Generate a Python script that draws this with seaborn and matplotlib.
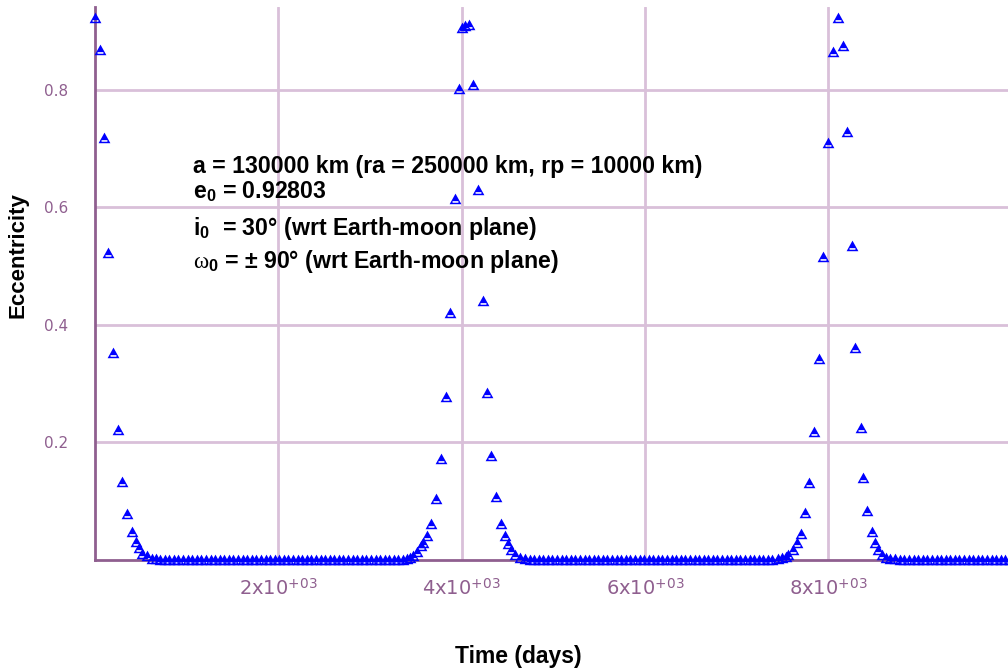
import numpy as np
import pandas as pd
import seaborn as sns
import matplotlib.pyplot as plt
from matplotlib.path import Path

# ---- data (time in days, eccentricity) ----
peak1_t = [0, 55, 98, 147, 200, 248, 298, 346, 400, 444, 480, 516, 564, 619]
peak1_e = [0.922, 0.868, 0.718, 0.523, 0.352, 0.222, 0.133, 0.079, 0.048, 0.031,
           0.020, 0.011, 0.006, 0.002]

flat1_t = [660, 710, 760, 810, 860, 910, 960, 1010, 1060, 1110,
           1160, 1210, 1260, 1310, 1360, 1410, 1460, 1510, 1560, 1610,
           1660, 1710, 1760, 1810, 1860, 1910, 1960, 2010, 2060, 2110,
           2160, 2210, 2260, 2310, 2360, 2410, 2460, 2510, 2560, 2610,
           2660, 2710, 2760, 2810, 2860, 2910, 2960, 3010, 3060, 3110,
           3160, 3210, 3260, 3310, 3360]
flat1_e = [0.001, 0.0, 0.0, 0.0, 0.0, 0.0, 0.0, 0.0, 0.0, 0.0,
           0.0, 0.0, 0.0, 0.0, 0.0, 0.0, 0.0, 0.0, 0.0, 0.0,
           0.0, 0.0, 0.0, 0.0, 0.0, 0.0, 0.0, 0.0, 0.0, 0.0,
           0.0, 0.0, 0.0, 0.0, 0.0, 0.0, 0.0, 0.0, 0.0, 0.0,
           0.0, 0.0, 0.0, 0.0, 0.0, 0.0, 0.0, 0.0, 0.0, 0.0,
           0.0, 0.0, 0.0, 0.0, 0.0]

peak2_t = [3400, 3435, 3470, 3510, 3555, 3580, 3620, 3665, 3720, 3770,
           3825, 3875, 3925, 3970, 4000, 4035, 4080, 4125, 4180, 4235,
           4275, 4325, 4375, 4425, 4475, 4505, 4540, 4585, 4635, 4690]
peak2_e = [0.001, 0.003, 0.007, 0.014, 0.023, 0.029, 0.040, 0.061, 0.103, 0.172,
           0.277, 0.421, 0.614, 0.801, 0.905, 0.909, 0.911, 0.808, 0.630, 0.441,
           0.285, 0.177, 0.108, 0.062, 0.040, 0.027, 0.017, 0.009, 0.003, 0.001]

flat2_t = [4740, 4790, 4840, 4890, 4940, 4990, 5040, 5090, 5140, 5190,
           5240, 5290, 5340, 5390, 5440, 5490, 5540, 5590, 5640, 5690,
           5740, 5790, 5840, 5890, 5940, 5990, 6040, 6090, 6140, 6190,
           6240, 6290, 6340, 6390, 6440, 6490, 6540, 6590, 6640, 6690,
           6740, 6790, 6840, 6890, 6940, 6990, 7040, 7090, 7140, 7190,
           7240, 7290, 7340, 7390]
flat2_e = [0.0, 0.0, 0.0, 0.0, 0.0, 0.0, 0.0, 0.0, 0.0, 0.0,
           0.0, 0.0, 0.0, 0.0, 0.0, 0.0, 0.0, 0.0, 0.0, 0.0,
           0.0, 0.0, 0.0, 0.0, 0.0, 0.0, 0.0, 0.0, 0.0, 0.0,
           0.0, 0.0, 0.0, 0.0, 0.0, 0.0, 0.0, 0.0, 0.0, 0.0,
           0.0, 0.0, 0.0, 0.0, 0.0, 0.0, 0.0, 0.0, 0.0, 0.0,
           0.0, 0.0, 0.0, 0.0]

peak3_t = [7451, 7494, 7538, 7560, 7614, 7655, 7698, 7745, 7792, 7847,
           7898, 7945, 8000, 8054, 8102, 8157, 8200, 8255, 8291, 8353,
           8381, 8418, 8473, 8509, 8542, 8582, 8629, 8673, 8727]
peak3_e = [0.001, 0.003, 0.005, 0.009, 0.017, 0.029, 0.045, 0.080, 0.131, 0.218,
           0.342, 0.515, 0.709, 0.864, 0.922, 0.875, 0.729, 0.534, 0.361, 0.225,
           0.139, 0.084, 0.048, 0.029, 0.017, 0.009, 0.004, 0.002, 0.001]

flat3_t = [8780, 8830, 8880, 8930, 8980, 9030, 9080, 9130, 9180, 9230,
           9280, 9330, 9380, 9430, 9480, 9530, 9580, 9630, 9680, 9730,
           9780, 9830, 9880, 9930, 9980]
flat3_e = [0.0, 0.0, 0.0, 0.0, 0.0, 0.0, 0.0, 0.0, 0.0, 0.0,
           0.0, 0.0, 0.0, 0.0, 0.0, 0.0, 0.0, 0.0, 0.0, 0.0,
           0.0, 0.0, 0.0, 0.0, 0.0]

x_ticks = [2000, 4000, 6000, 8000]
x_tick_labels = [r'$\mathrm{2x10}^{\mathrm{+03}}$', r'$\mathrm{4x10}^{\mathrm{+03}}$',
                 r'$\mathrm{6x10}^{\mathrm{+03}}$', r'$\mathrm{8x10}^{\mathrm{+03}}$']
y_ticks = [0.2, 0.4, 0.6, 0.8]
y_tick_labels = ['0.2', '0.4', '0.6', '0.8']

info_lines = [
    'a = 130000 km (ra = 250000 km, rp = 10000 km)',
    r'e$_{\mathbf{0}}$ = 0.92803',
    r'i$_{\mathbf{0}}$  = 30° (wrt Earth-moon plane)',
    r'$\omega_{\mathbf{0}}$ = ± 90° (wrt Earth-moon plane)',
]

df = pd.DataFrame({
    'time': peak1_t + flat1_t + peak2_t + flat2_t + peak3_t + flat3_t,
    'ecc': peak1_e + flat1_e + peak2_e + flat2_e + peak3_e + flat3_e,
})

# ---- style ----
sns.set_style('white')
plt.rcParams['font.family'] = ['Liberation Sans', 'DejaVu Sans']
plt.rcParams['mathtext.fontset'] = 'custom'
plt.rcParams['mathtext.rm'] = 'DejaVu Sans'
plt.rcParams['mathtext.bf'] = 'Liberation Sans:bold'
plt.rcParams['mathtext.it'] = 'Liberation Serif'

purple = '#8f5f8f'
grid_purple = '#d9c0d9'
blue = '#0000ff'

# triangle marker with a white slot near the base
tri = Path(
    [(-1, -0.8), (1, -0.8), (0, 1), (-1, -0.8),
     (-0.5, -0.55), (-0.5, -0.28), (0.5, -0.28), (0.5, -0.55), (-0.5, -0.55)],
    [Path.MOVETO, Path.LINETO, Path.LINETO, Path.CLOSEPOLY,
     Path.MOVETO, Path.LINETO, Path.LINETO, Path.LINETO, Path.CLOSEPOLY],
)

fig = plt.figure(figsize=(10.08, 6.71), dpi=100)
ax = fig.add_axes([95 / 1008, 111 / 671, 913 / 1008, 553 / 671])

sns.scatterplot(data=df, x='time', y='ecc', ax=ax, marker=tri, s=72,
                color=blue, linewidth=0, clip_on=False, zorder=3)

ax.set_xlim(0, 9960)
ax.set_ylim(0, 0.941)

ax.set_xticks(x_ticks)
ax.set_xticklabels(x_tick_labels)
ax.set_yticks(y_ticks)
ax.set_yticklabels(y_tick_labels)
ax.tick_params(axis='both', direction='inout', length=15, width=1.5,
               color=purple, labelcolor=purple)
ax.tick_params(axis='y', pad=12, labelsize=11)
ax.tick_params(axis='x', pad=6, labelsize=14)
for lab in ax.get_xticklabels() + ax.get_yticklabels():
    lab.set_family('DejaVu Sans')

ax.grid(True, color=grid_purple, linewidth=2)
ax.set_axisbelow(True)
for side in ['top', 'right']:
    ax.spines[side].set_visible(False)
for side in ['left', 'bottom']:
    ax.spines[side].set_color(purple)
    ax.spines[side].set_linewidth(2)

ax.set_xlabel('')
ax.set_ylabel('')
fig.text(518 / 1008, 1 - 657 / 671, 'Time (days)', ha='center', va='center',
         fontsize=16.5, fontweight='bold', color='black')
fig.text(18 / 1008, 1 - 255 / 671, 'Eccentricity', ha='center', va='center',
         rotation=90, fontsize=16, fontweight='bold', color='black')

baselines = [173, 199, 235, 268]
for line, yb in zip(info_lines, baselines):
    fig.text(193 / 1008, 1 - yb / 671, line, ha='left', va='baseline',
             fontsize=16.7, fontweight='bold', color='black')

fig.savefig('out.png', dpi=100)
